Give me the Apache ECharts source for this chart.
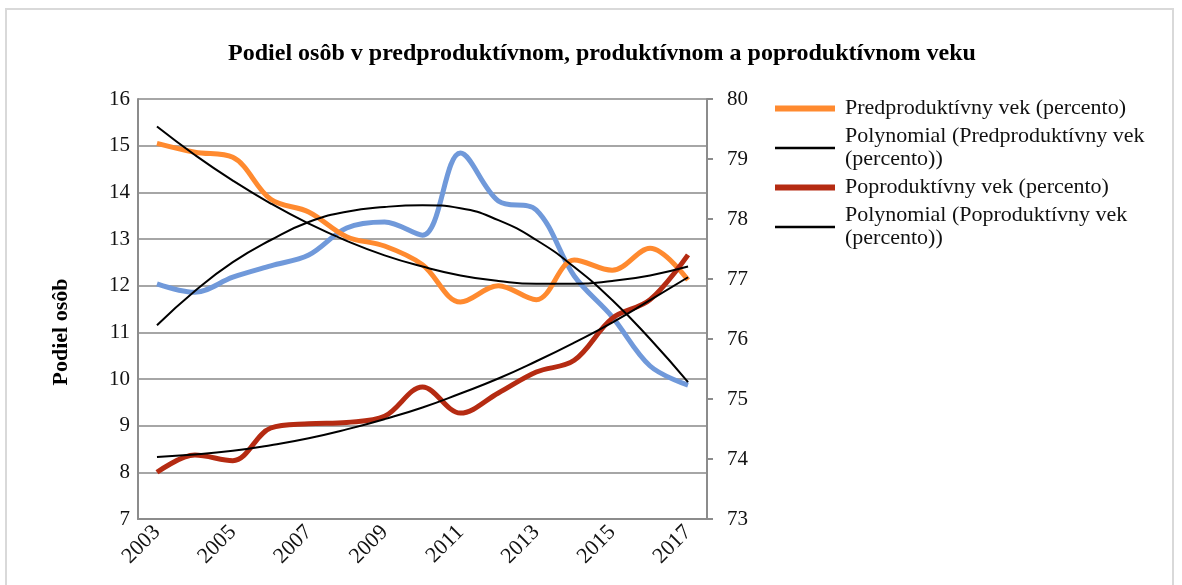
<!DOCTYPE html>
<html>
<head>
<meta charset="utf-8">
<script src="https://cdn.jsdelivr.net/npm/echarts@6/dist/echarts.min.js"></script>
<style>
  html, body { margin: 0; padding: 0; background: #fff; }
  #chart { width: 1182px; height: 585px; }
</style>
</head>
<body>
<div id="chart"></div>
<script>
// roky
const years = ['2003', '2004', '2005', '2006', '2007', '2008', '2009', '2010',
  '2011', '2012', '2013', '2014', '2015', '2016', '2017'];

// hodnoty v percentach (odcitane z grafu)
const preValues = [15.05, 14.86, 14.75, 13.85, 13.58, 13.05, 12.85, 12.45, 11.65, 12.0, 11.7, 12.55, 12.33, 12.8, 12.12];
const prodValues = [76.92, 76.78, 77.03, 77.22, 77.4, 77.85, 77.95, 77.73, 79.1, 78.3, 78.15, 77.05, 76.37, 75.55, 75.23];
const postValues = [8.0, 8.37, 8.25, 8.95, 9.04, 9.07, 9.2, 9.83, 9.27, 9.7, 10.15, 10.4, 11.3, 11.7, 12.66];

// trendove ciary (polynom), odcitane z grafu
const preTrend = [15.41, 14.80, 14.25, 13.76, 13.33, 12.96, 12.65, 12.41, 12.22, 12.10, 12.04, 12.04, 12.10, 12.22, 12.41];
const prodTrend = [76.23, 76.8, 77.28, 77.65, 77.95, 78.12, 78.2, 78.23, 78.18, 77.98, 77.65, 77.2, 76.65, 76.0, 75.28];
const postTrend = [8.33, 8.38, 8.46, 8.58, 8.73, 8.92, 9.14, 9.39, 9.69, 10.01, 10.38, 10.78, 11.21, 11.69, 12.18];

const leftTicks = [7, 16];
const rightTicks = [73, 80];

const serif = '"Liberation Serif", "DejaVu Serif", serif';

const chart = echarts.init(document.getElementById('chart'), null, { renderer: 'canvas' });

const trendLine = { color: '#000', width: 2 };
const thickIcon = 'path://M0,0L60,0L60,6L0,6Z';
const thinIcon = 'path://M0,0L60,0L60,2.5L0,2.5Z';

const option = {
  animation: false,
  backgroundColor: '#fff',
  graphic: [{
    type: 'rect',
    shape: { x: 6, y: 9, width: 1167, height: 600 },
    style: { fill: 'none', stroke: '#d9d9d9', lineWidth: 2 },
    silent: true
  }],
  title: {
    text: 'Podiel osôb v predproduktívnom, produktívnom a poproduktívnom veku',
    left: 597,
    textAlign: 'center',
    top: 37,
    textStyle: { fontFamily: serif, fontWeight: 'bold', fontSize: 24, color: '#000' }
  },
  legend: {
    orient: 'vertical',
    left: 770,
    top: 92,
    itemWidth: 60,
    itemHeight: 14,
    itemGap: 5,
    textStyle: { fontFamily: serif, fontSize: 22, color: '#111', lineHeight: 23, padding: [0, 0, 0, 5] },
    data: [
      { name: 'Predproduktívny vek (percento)', icon: thickIcon, itemStyle: { color: '#ff8a2f' } },
      { name: 'Polynomial (Predproduktívny vek (percento))', icon: thinIcon, itemStyle: { color: '#000' } },
      { name: 'Poproduktívny vek (percento)', icon: thickIcon, itemStyle: { color: '#b52b12' } },
      { name: 'Polynomial (Poproduktívny vek (percento))', icon: thinIcon, itemStyle: { color: '#000' } }
    ],
    formatter: function (name) {
      return name.replace(' (percento))', '\n(percento))');
    }
  },
  grid: { left: 138, right: 475, top: 99, bottom: 66, containLabel: false },
  xAxis: {
    type: 'category',
    data: years,
    boundaryGap: true,
    axisLine: { lineStyle: { color: '#8c8c8c', width: 2 } },
    axisTick: { show: false },
    axisLabel: {
      interval: 1,
      rotate: 45,
      margin: 10,
      fontFamily: serif,
      fontSize: 22,
      color: '#111'
    }
  },
  yAxis: [{
    type: 'value',
    min: leftTicks[0],
    max: leftTicks[1],
    interval: 1,
    name: 'Podiel osôb',
    nameLocation: 'middle',
    nameGap: 66,
    nameTextStyle: {
      fontFamily: serif, fontWeight: 'bold', fontSize: 22, color: '#000',
      padding: [0, 46, 0, 0]
    },
    axisLine: { show: true, lineStyle: { color: '#8c8c8c', width: 2 } },
    axisTick: { show: false },
    axisLabel: { fontFamily: serif, fontSize: 21, color: '#111', margin: 8 },
    splitLine: { lineStyle: { color: '#a6a6a6', width: 2 } }
  }, {
    type: 'value',
    min: rightTicks[0],
    max: rightTicks[1],
    interval: 1,
    position: 'right',
    axisLine: { show: true, lineStyle: { color: '#8c8c8c', width: 2 } },
    axisTick: { show: true, length: 6, lineStyle: { color: '#8c8c8c', width: 2 } },
    axisLabel: { fontFamily: serif, fontSize: 21, color: '#111', margin: 20 },
    splitLine: { show: false }
  }],
  series: [
    {
      name: 'Produktívny vek (percento)',
      type: 'line', yAxisIndex: 1, data: prodValues, smooth: 0.35, symbol: 'none',
      lineStyle: { color: '#7099da', width: 5 }, itemStyle: { color: '#7099da' }
    },
    {
      name: 'Predproduktívny vek (percento)',
      type: 'line', data: preValues, smooth: 0.35, symbol: 'none',
      lineStyle: { color: '#ff8a2f', width: 5 }, itemStyle: { color: '#ff8a2f' }
    },
    {
      name: 'Poproduktívny vek (percento)',
      type: 'line', data: postValues, smooth: 0.35, symbol: 'none',
      lineStyle: { color: '#b52b12', width: 5 }, itemStyle: { color: '#b52b12' }
    },
    {
      name: 'Polynomial (Predproduktívny vek (percento))',
      type: 'line', data: preTrend, smooth: true, symbol: 'none',
      lineStyle: trendLine, itemStyle: { color: '#000' }
    },
    {
      name: 'Polynomial (Produktívny vek (percento))',
      type: 'line', yAxisIndex: 1, data: prodTrend, smooth: true, symbol: 'none',
      lineStyle: trendLine, itemStyle: { color: '#000' }
    },
    {
      name: 'Polynomial (Poproduktívny vek (percento))',
      type: 'line', data: postTrend, smooth: true, symbol: 'none',
      lineStyle: trendLine, itemStyle: { color: '#000' }
    }
  ]
};

chart.setOption(option);
</script>
</body>
</html>
